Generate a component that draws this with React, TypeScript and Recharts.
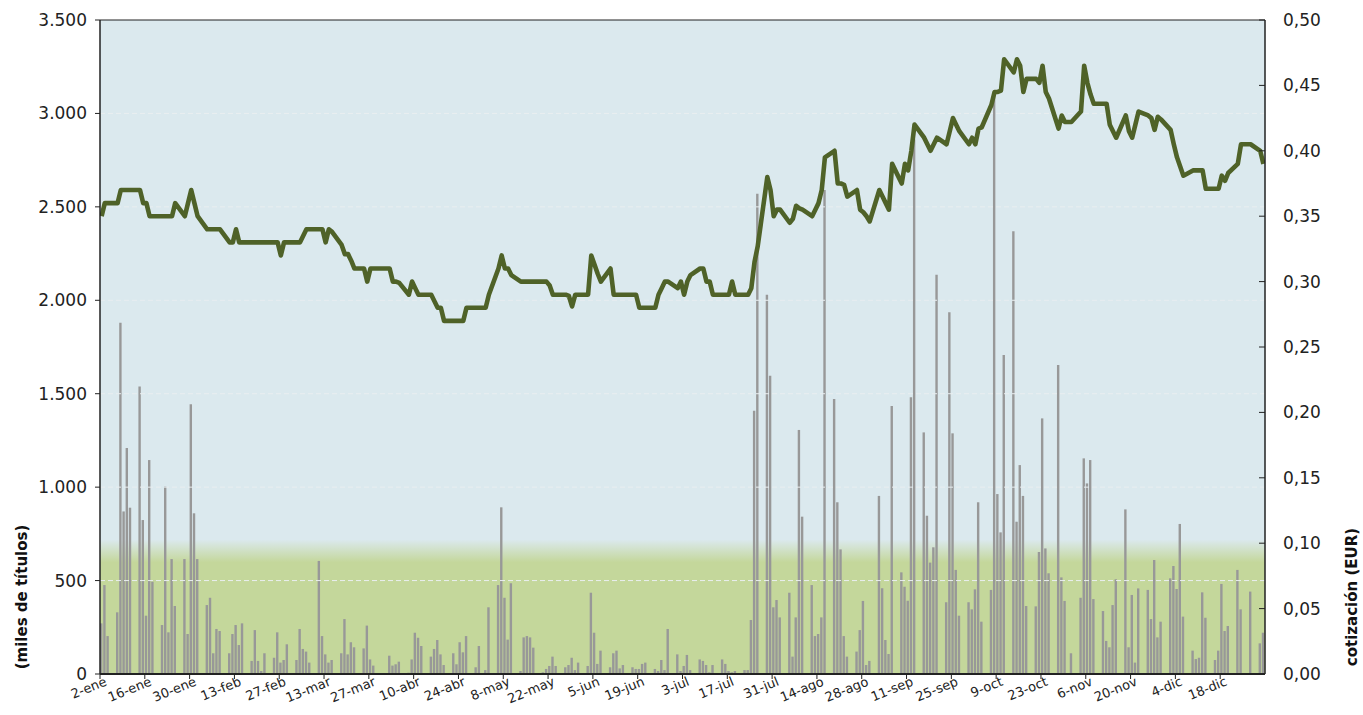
import React from 'react';
import {
  ComposedChart,
  Bar,
  Line,
  XAxis,
  YAxis,
  CartesianGrid,
  ReferenceArea,
  ReferenceLine,
} from 'recharts';

// labels of the date axis, one every 14 days starting 2 Jan 2013
const tickLabels = [
  '2-ene', '16-ene', '30-ene', '13-feb', '27-feb', '13-mar', '27-mar', '10-abr', '24-abr',
  '8-may', '22-may', '5-jun', '19-jun', '3-jul', '17-jul', '31-jul', '14-ago', '28-ago',
  '11-sep', '25-sep', '9-oct', '23-oct', '6-nov', '20-nov', '4-dic', '18-dic',
];

// market holidays (weekdays without session)
const holidays = ['2013-03-29', '2013-04-01', '2013-05-01', '2013-12-25', '2013-12-26'];

// traded volume, miles de títulos (one line per week)
const volumes = [
  271, 476, 203,
  330, 1880, 870, 1210, 890,
  1538, 824, 312, 1145, 494,
  262, 1003, 223, 615, 364,
  615, 214, 1443, 860, 615,
  369, 408, 111, 241, 230,
  111, 214, 262, 155, 271,
  70, 235, 70, 16, 111,
  87, 223, 61, 75, 159,
  75, 241, 134, 120, 61,
  605, 203, 105, 61, 75,
  111, 294, 105, 170, 143,
  137, 259, 78, 45,
  98, 45, 52, 66,
  7, 78, 221, 194, 150,
  93, 134, 182, 105, 48,
  111, 52, 170, 116, 203,
  36, 150, 21, 357,
  476, 892, 408, 184, 485,
  16, 196, 203, 196, 141,
  9, 27, 43, 93, 43,
  36, 48, 87, 21, 61,
  43, 435, 221, 54, 125,
  36, 111, 125, 30, 48,
  36, 27, 27, 54, 61,
  27, 16, 75, 21, 241,
  105, 16, 43, 102, 21,
  78, 70, 48, 9, 48,
  78, 54, 16, 9, 16,
  21, 21, 289, 1409, 2570,
  2030, 1596, 357, 396, 303,
  435, 93, 303, 1306, 842,
  476, 203, 214, 303, 2590,
  1472, 919, 667, 203, 93,
  120, 235, 391, 48, 70,
  953, 459, 182, 107, 1434,
  544, 467, 392, 1481, 2860,
  1293, 847, 596, 678, 2136,
  384, 1936, 1288, 557, 312,
  384, 346, 453, 919, 280,
  450, 3120, 963, 758, 1707,
  2370, 815, 1118, 953, 364,
  362, 653, 1368, 672, 539,
  1654, 517, 391, 0, 111,
  408, 1154, 1020, 1145, 401,
  337, 177, 143, 369, 507,
  881, 143, 423, 61, 458,
  450, 294, 610, 196, 280,
  512, 578, 455, 803, 307,
  125, 80, 87, 437, 301,
  75, 125, 482, 230, 257,
  557, 346, 441,
  164, 221,
];

// closing price, EUR (one line per week)
const prices = [
  0.35, 0.36, 0.36,
  0.36, 0.37, 0.37, 0.37, 0.37,
  0.37, 0.36, 0.36, 0.35, 0.35,
  0.35, 0.35, 0.35, 0.35, 0.36,
  0.35, 0.36, 0.37, 0.36, 0.35,
  0.34, 0.34, 0.34, 0.34, 0.34,
  0.33, 0.33, 0.34, 0.33, 0.33,
  0.33, 0.33, 0.33, 0.33, 0.33,
  0.33, 0.33, 0.32, 0.33, 0.33,
  0.33, 0.33, 0.335, 0.34, 0.34,
  0.34, 0.34, 0.33, 0.34, 0.338,
  0.328, 0.321, 0.321, 0.316, 0.31,
  0.31, 0.3, 0.31, 0.31,
  0.31, 0.3, 0.3, 0.299,
  0.29, 0.3, 0.295, 0.29, 0.29,
  0.29, 0.285, 0.28, 0.28, 0.27,
  0.27, 0.27, 0.27, 0.27, 0.28,
  0.28, 0.28, 0.28, 0.29,
  0.31, 0.32, 0.31, 0.31, 0.305,
  0.3, 0.3, 0.3, 0.3, 0.3,
  0.3, 0.3, 0.297, 0.29, 0.29,
  0.29, 0.289, 0.281, 0.29, 0.29,
  0.29, 0.32, 0.313, 0.306, 0.3,
  0.31, 0.29, 0.29, 0.29, 0.29,
  0.29, 0.29, 0.28, 0.28, 0.28,
  0.28, 0.29, 0.295, 0.3, 0.3,
  0.295, 0.3, 0.29, 0.3, 0.305,
  0.31, 0.31, 0.3, 0.3, 0.29,
  0.29, 0.29, 0.29, 0.3, 0.29,
  0.29, 0.29, 0.295, 0.315, 0.327,
  0.38, 0.37, 0.35, 0.355, 0.355,
  0.345, 0.348, 0.358, 0.356, 0.355,
  0.35, 0.355, 0.36, 0.37, 0.395,
  0.4, 0.375, 0.375, 0.374, 0.365,
  0.37, 0.355, 0.353, 0.35, 0.346,
  0.37, 0.365, 0.36, 0.355, 0.39,
  0.375, 0.39, 0.385, 0.4, 0.42,
  0.41, 0.405, 0.4, 0.405, 0.41,
  0.405, 0.415, 0.425, 0.42, 0.415,
  0.405, 0.41, 0.405, 0.417, 0.418,
  0.435, 0.445, 0.445, 0.446, 0.47,
  0.46, 0.47, 0.465, 0.445, 0.455,
  0.455, 0.452, 0.465, 0.445, 0.44,
  0.417, 0.427, 0.422, 0.422, 0.422,
  0.43, 0.465, 0.452, 0.443, 0.436,
  0.436, 0.436, 0.42, 0.415, 0.41,
  0.427, 0.415, 0.41, 0.42, 0.43,
  0.427, 0.425, 0.416, 0.426, 0.424,
  0.416, 0.405, 0.395, 0.388, 0.381,
  0.385, 0.385, 0.385, 0.385, 0.371,
  0.371, 0.371, 0.381, 0.377, 0.383,
  0.39, 0.405, 0.405,
  0.4, 0.39,
];

const volTicks = [0, 500, 1000, 1500, 2000, 2500, 3000, 3500];
const priceTicks = [0, 0.05, 0.1, 0.15, 0.2, 0.25, 0.3, 0.35, 0.4, 0.45, 0.5];

const pad = (n: number) => (n < 10 ? '0' + n : '' + n);

// days counted from 2 Jan 2013; keep only trading sessions
const sessionDays: number[] = [];
for (let d = 0; d < 364; d++) {
  const dt = new Date(2013, 0, 2 + d);
  const wd = dt.getDay();
  const iso = `${dt.getFullYear()}-${pad(dt.getMonth() + 1)}-${pad(dt.getDate())}`;
  if (wd === 0 || wd === 6 || holidays.includes(iso)) continue;
  sessionDays.push(d);
}

const data = sessionDays.map((d, i) => ({ d, vol: volumes[i], price: prices[i] }));

// tick marks sit on the boundary before each labelled day
const xTicks = tickLabels.map((_, i) => i * 14 - 0.5);

const FONT = '"DejaVu Sans", Verdana, sans-serif';

const fmtVol = (v: number) => String(v).replace(/\B(?=(\d{3})+(?!\d))/g, '.');
const fmtPrice = (v: number) => v.toFixed(2).replace('.', ',');

const XTick = (props: any) => {
  const { x, y, payload } = props;
  const label = tickLabels[Math.round((payload.value + 0.5) / 14)];
  return (
    <g transform={`translate(${x},${y})`}>
      <line x1={0} y1={0} x2={0} y2={5} stroke="#222" strokeWidth={1} />
      <text
        x={3}
        y={13}
        textAnchor="end"
        transform="rotate(-22)"
        fontFamily={FONT}
        fontSize={13}
        fill="#222"
      >
        {label}
      </text>
    </g>
  );
};

const LeftTick = (props: any) => {
  const { x, y, payload } = props;
  return (
    <g>
      <line x1={x - 5} y1={y} x2={x} y2={y} stroke="#222" strokeWidth={1} />
      <text x={x - 13} y={y} dy={6} textAnchor="end" fontFamily={FONT} fontSize={17} fill="#222">
        {fmtVol(payload.value)}
      </text>
    </g>
  );
};

const RightTick = (props: any) => {
  const { x, y, payload } = props;
  return (
    <g>
      <line x1={x - 6} y1={y} x2={x} y2={y} stroke="#222" strokeWidth={1} />
      <text x={x + 18} y={y} dy={6} textAnchor="start" fontFamily={FONT} fontSize={17} fill="#222">
        {fmtPrice(payload.value)}
      </text>
    </g>
  );
};

const AxisTitle = (props: any) => {
  const { viewBox, text, dx } = props;
  const cx = viewBox.x + dx;
  const cy = viewBox.y + viewBox.height - 77;
  return (
    <text
      transform={`translate(${cx},${cy}) rotate(-90)`}
      textAnchor="middle"
      dominantBaseline="central"
      fontFamily={FONT}
      fontWeight="bold"
      fontSize={15}
      fill="#111"
    >
      {text}
    </text>
  );
};

export default function App() {
  return (
    <div style={{ position: 'absolute', left: 0, top: 0 }}>
      <ComposedChart
        width={1363}
        height={715}
        data={data}
        margin={{ top: 20, right: 0, bottom: 7, left: 0 }}
      >
        <defs>
          <linearGradient id="greenFade" x1="0" y1="0" x2="0" y2="1">
            <stop offset="0" stopColor="#c4d79b" stopOpacity={0} />
            <stop offset="0.17" stopColor="#c4d79b" stopOpacity={1} />
            <stop offset="1" stopColor="#c4d79b" stopOpacity={1} />
          </linearGradient>
        </defs>
        <CartesianGrid fill="#dbe9ee" horizontal={false} vertical={false} />
        <ReferenceArea yAxisId="vol" y1={0} y2={720} fill="url(#greenFade)" fillOpacity={1} strokeWidth={0} />
        {volTicks.slice(1, -1).map((v) => (
          <ReferenceLine
            key={v}
            yAxisId="vol"
            y={v}
            stroke="#e9eef0"
            strokeDasharray="5 3"
            strokeWidth={1}
          />
        ))}
        <ReferenceLine yAxisId="vol" y={3500} stroke="#222" strokeWidth={1} />
        <XAxis
          type="number"
          dataKey="d"
          domain={[-0.5, 363.5]}
          ticks={xTicks}
          interval={0}
          allowDataOverflow
          height={34}
          axisLine={{ stroke: '#222', strokeWidth: 2 }}
          tickLine={false}
          tickSize={0}
          tickMargin={0}
          tick={<XTick />}
        />
        <YAxis
          yAxisId="vol"
          domain={[0, 3500]}
          ticks={volTicks}
          interval={0}
          width={100}
          axisLine={{ stroke: '#222', strokeWidth: 1.5 }}
          tickLine={false}
          tickSize={0}
          tickMargin={0}
          tick={<LeftTick />}
          label={<AxisTitle text="(miles de títulos)" dx={22} />}
        />
        <YAxis
          yAxisId="price"
          orientation="right"
          domain={[0, 0.5]}
          ticks={priceTicks}
          interval={0}
          width={98}
          axisLine={{ stroke: '#222', strokeWidth: 1.5 }}
          tickLine={false}
          tickSize={0}
          tickMargin={0}
          tick={<RightTick />}
          label={<AxisTitle text="cotización (EUR)" dx={87} />}
        />
        <Bar
          yAxisId="vol"
          dataKey="vol"
          fill="#989898"
          barSize={2.4}
          isAnimationActive={false}
        />
        <Line
          yAxisId="price"
          dataKey="price"
          type="linear"
          stroke="#4f6228"
          strokeWidth={4.6}
          strokeLinejoin="round"
          dot={false}
          activeDot={false}
          isAnimationActive={false}
        />
      </ComposedChart>
    </div>
  );
}
